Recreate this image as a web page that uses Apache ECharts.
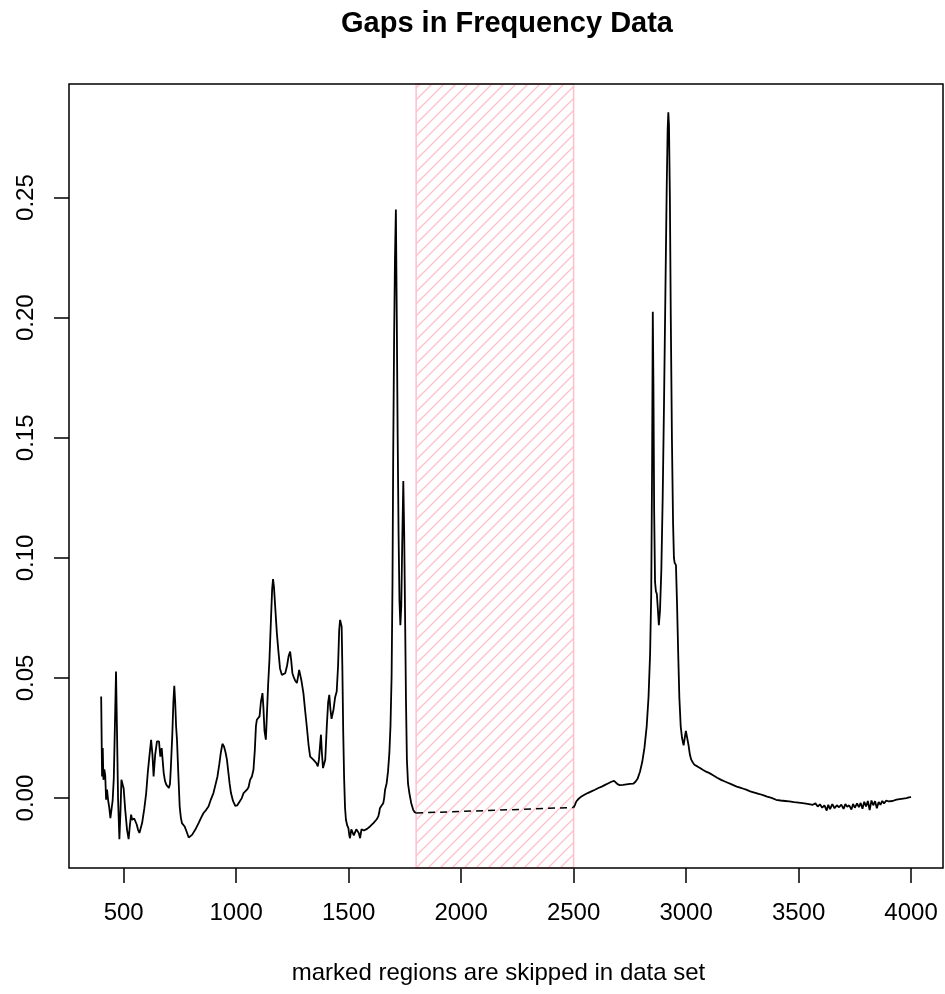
<!DOCTYPE html>
<html>
<head>
<meta charset="utf-8">
<title>Gaps in Frequency Data</title>
<script src="https://cdn.jsdelivr.net/npm/echarts@6/dist/echarts.min.js"></script>
<style>
  html, body { margin: 0; padding: 0; background: #fff; }
  #chart { width: 945px; height: 994px; }
</style>
</head>
<body>
<div id="chart"></div>
<script>
// spectrum before the skipped region (wavenumber, value)
var leftX = [400, 404, 407, 410, 414, 418, 422, 426, 431, 436, 441, 446, 451, 456, 461, 466, 470, 475, 481, 486,
  490, 496, 500, 507, 515, 522, 527, 533, 538, 542, 547, 552, 558, 564, 570, 574, 582, 592, 600, 607,
  615, 622, 628, 633, 640, 648, 657, 663, 669, 674, 678, 684, 690, 701, 706, 710, 716, 721, 725, 729,
  733, 737, 743, 749, 754, 759, 765, 771, 780, 789, 796, 804, 818, 833, 845, 855, 866, 877, 888, 899,
  908, 917, 925, 932, 939, 946, 953, 959, 965, 971, 977, 986, 996, 1005, 1015, 1025, 1033, 1040, 1048, 1055,
  1062, 1070, 1077, 1083, 1088, 1092, 1098, 1104, 1110, 1117, 1121, 1126, 1132, 1136, 1142, 1148, 1155, 1160, 1164, 1168,
  1174, 1181, 1188, 1195, 1203, 1210, 1218, 1226, 1233, 1240, 1245, 1250, 1255, 1262, 1270, 1276, 1280, 1284, 1290, 1299,
  1306, 1314, 1322, 1329, 1336, 1343, 1350, 1357, 1363, 1368, 1373, 1377, 1381, 1386, 1391, 1396, 1403, 1409, 1414, 1419,
  1424, 1428, 1433, 1440, 1447, 1453, 1458, 1462, 1466, 1469, 1472, 1476, 1480, 1484, 1488, 1494, 1499, 1503, 1506, 1512,
  1518, 1523, 1528, 1534, 1539, 1545, 1551, 1557, 1563, 1568, 1573, 1582, 1589, 1595, 1602, 1610, 1617, 1625, 1632, 1636,
  1639, 1646, 1654, 1658, 1662, 1666, 1669, 1675, 1681, 1686, 1691, 1695, 1698, 1702, 1706, 1710, 1714, 1718, 1722, 1726,
  1730, 1734, 1738, 1743, 1747, 1751, 1755, 1759, 1764, 1770, 1778, 1787, 1793, 1800];
var leftY = [0.0423, 0.009, 0.0208, 0.0076, 0.012, 0.0095, -0.0007, 0.0035, -0.001, -0.004, -0.0083, -0.0075, -0.001, 0.008, 0.030, 0.0527, 0.030, 0.000, -0.0171, -0.005,
  0.0076, 0.0075, 0.004, -0.005, -0.0132, -0.0171, -0.012, -0.0069, -0.009, -0.0097, -0.0085, -0.009, -0.011, -0.0132, -0.0145, -0.0146, -0.0104, -0.0042, 0.002, 0.0104,
  0.018, 0.0243, 0.018, 0.009, 0.018, 0.0236, 0.0236, 0.0173, 0.0208, 0.015, 0.0104, 0.007, 0.0055, 0.0042, 0.006, 0.0132, 0.026, 0.040, 0.0468, 0.040,
  0.030, 0.0243, 0.010, -0.0035, -0.008, -0.0104, -0.0112, -0.0118, -0.014, -0.0164, -0.016, -0.0153, -0.0132, -0.0104, -0.008, -0.0062, -0.005, -0.0035, -0.0005, 0.0021,
  0.0055, 0.009, 0.014, 0.019, 0.0226, 0.0215, 0.019, 0.016, 0.011, 0.006, 0.0021, -0.0012, -0.0032, -0.003, -0.0015, 0.0, 0.0021, 0.0028, 0.0035, 0.0045,
  0.0076, 0.009, 0.0118, 0.020, 0.030, 0.0326, 0.0333, 0.034, 0.040, 0.0437, 0.038, 0.028, 0.0243, 0.033, 0.047, 0.0576, 0.075, 0.087, 0.0912, 0.088,
  0.079, 0.0687, 0.061, 0.054, 0.0513, 0.0515, 0.052, 0.055, 0.059, 0.061, 0.057, 0.052, 0.0506, 0.049, 0.0479, 0.051, 0.0534, 0.0534, 0.049, 0.0437,
  0.037, 0.0298, 0.022, 0.0173, 0.0165, 0.016, 0.0155, 0.0145, 0.0132, 0.016, 0.022, 0.0264, 0.019, 0.0125, 0.0118, 0.016, 0.030, 0.040, 0.043, 0.037,
  0.033, 0.0326, 0.037, 0.042, 0.0444, 0.055, 0.070, 0.0742, 0.0745, 0.0714, 0.055, 0.0271, 0.008, -0.004, -0.009, -0.0115, -0.0125, -0.0155, -0.0167, -0.013,
  -0.0132, -0.0155, -0.016, -0.013, -0.0125, -0.0145, -0.0167, -0.013, -0.0125, -0.0135, -0.0139, -0.0128, -0.012, -0.0118, -0.011, -0.0104, -0.0097, -0.0088, -0.0076, -0.006,
  -0.0042, -0.0032, -0.0021, 0.000, 0.0035, 0.005, 0.0062, 0.011, 0.0187, 0.030, 0.0506, 0.090, 0.141, 0.190, 0.225, 0.245, 0.200, 0.150, 0.110, 0.082,
  0.072, 0.080, 0.105, 0.132, 0.110, 0.075, 0.040, 0.016, 0.006, 0.0021, -0.002, -0.0049, -0.0058, -0.0062];

// spectrum after the skipped region
var rightX = [2500, 2506, 2512, 2520, 2535, 2550, 2565, 2579, 2595, 2610, 2625, 2640, 2655, 2668, 2680, 2688, 2695, 2705, 2720, 2735,
  2750, 2765, 2775, 2785, 2795, 2805, 2815, 2825, 2833, 2840, 2845, 2849, 2852, 2855, 2858, 2862, 2866, 2870, 2875, 2879,
  2884, 2890, 2896, 2902, 2908, 2914, 2918, 2921, 2924, 2928, 2932, 2937, 2942, 2946, 2949, 2955, 2960, 2965, 2970, 2976,
  2982, 2989, 2993, 2999, 3005, 3011, 3017, 3023, 3030, 3037, 3050, 3062, 3074, 3089, 3104, 3120, 3138, 3156, 3170, 3185,
  3200, 3208, 3225, 3240, 3255, 3267, 3285, 3300, 3315, 3326, 3345, 3360, 3380, 3400, 3420, 3440, 3459, 3480, 3500, 3518,
  3540, 3563, 3575, 3585, 3595, 3605, 3615, 3625, 3632, 3640, 3650, 3660, 3670, 3680, 3690, 3700, 3708, 3716, 3725, 3735,
  3742, 3750, 3760, 3768, 3776, 3784, 3792, 3800, 3808, 3816, 3824, 3832, 3840, 3848, 3856, 3864, 3872, 3880, 3890, 3900,
  3918, 3935, 3950, 3965, 3980, 3990, 4000];
var rightY = [-0.0039, -0.0028, -0.0014, -0.0005, 0.0007, 0.0015, 0.0022, 0.0028, 0.0035, 0.0042, 0.0048, 0.0055, 0.0062, 0.0068, 0.0072, 0.0068, 0.0058, 0.0054, 0.0055, 0.0057,
  0.0059, 0.006, 0.0068, 0.0082, 0.011, 0.015, 0.021, 0.030, 0.042, 0.060, 0.085, 0.140, 0.2025, 0.170, 0.120, 0.090, 0.086, 0.085, 0.078, 0.072,
  0.078, 0.095, 0.125, 0.165, 0.210, 0.255, 0.278, 0.2855, 0.280, 0.250, 0.200, 0.150, 0.115, 0.100, 0.098, 0.097, 0.080, 0.060, 0.042, 0.030,
  0.025, 0.022, 0.0225, 0.028, 0.0285, 0.022, 0.018, 0.016, 0.0148, 0.0139, 0.0132, 0.0125, 0.0118, 0.011, 0.0104, 0.0095, 0.0085, 0.0076, 0.0070, 0.0064,
  0.0058, 0.0055, 0.0048, 0.0044, 0.0039, 0.0035, 0.0028, 0.0024, 0.0020, 0.0017, 0.0011, 0.0006, 0.0001, -0.0007, -0.0010, -0.0012, -0.0014, -0.0017, -0.0019, -0.0021,
  -0.0024, -0.0028, -0.0022, -0.0035, -0.0026, -0.0040, -0.0030, -0.0052, -0.0028, -0.0046, -0.0025, -0.0042, -0.0030, -0.0038, -0.0027, -0.0045, -0.0025, -0.0036, -0.0030, -0.0048,
  -0.0024, -0.0040, -0.0022, -0.0038, -0.0020, -0.0044, -0.0015, -0.0035, -0.0012, -0.0050, -0.0010, -0.0030, -0.0013, -0.0042, -0.0016, -0.0028, -0.0012, -0.0022, -0.0010, -0.0014,
  -0.0012, -0.0006, -0.0004, -0.0002, 0.0000, 0.0003, 0.0004];

// skipped region, plot box ranges and tick marks
var gapX = [1800, 2500];
var xRange = [257, 4142];
var yRange = [-0.0291, 0.2973];
var xTicks = [500, 1000, 1500, 2000, 2500, 3000, 3500, 4000];
var yTicks = [0, 0.05, 0.10, 0.15, 0.20, 0.25];

var FONT = 'Liberation Sans, Arial, Helvetica, sans-serif';
var TICK_LEN = 15;

// plot box in pixels; the grid reaches TICK_LEN further left and down so
// the outward R-style ticks fall inside it
var BOX = { left: 69, right: 943, top: 84, bottom: 868 };
var pxPerX = (BOX.right - BOX.left) / (xRange[1] - xRange[0]);
var pxPerY = (BOX.bottom - BOX.top) / (yRange[1] - yRange[0]);
var xAxisMin = xRange[0] - TICK_LEN / pxPerX;
var yAxisMin = yRange[0] - TICK_LEN / pxPerY;

function pairs(xs, ys) {
  return xs.map(function (x, i) { return [x, ys[i]]; });
}

// hatch tile for the skipped region (45 degree pink lines)
function hatchTile() {
  var s = 12;
  var c = document.createElement('canvas');
  c.width = s; c.height = s;
  var ctx = c.getContext('2d');
  ctx.strokeStyle = '#ffc0cb';
  ctx.lineWidth = 1.3;
  ctx.beginPath();
  ctx.moveTo(-1, s + 1); ctx.lineTo(s + 1, -1);
  ctx.moveTo(-1, 1); ctx.lineTo(1, -1);
  ctx.moveTo(s - 1, s + 1); ctx.lineTo(s + 1, s - 1);
  ctx.stroke();
  return c;
}

var leftData = pairs(leftX, leftY);
var rightData = pairs(rightX, rightY);
var gapData = [leftData[leftData.length - 1], rightData[0]];

var myChart = echarts.init(document.getElementById('chart'), null, { renderer: 'canvas' });

var tickStyle = { show: true, inside: true, length: TICK_LEN, lineStyle: { color: '#000', width: 1.5 } };

var option = {
  animation: false,
  backgroundColor: '#ffffff',
  title: {
    text: 'Gaps in Frequency Data',
    left: 341,
    top: 9,
    padding: 0,
    textStyle: { fontFamily: FONT, fontSize: 29, fontWeight: 'bold', color: '#000' }
  },
  grid: {
    left: BOX.left - TICK_LEN, right: 945 - BOX.right, top: BOX.top, bottom: 994 - BOX.bottom - TICK_LEN,
    show: false
  },
  xAxis: {
    type: 'value',
    min: xAxisMin, max: xRange[1],
    position: 'bottom',
    name: 'marked regions are skipped in data set',
    nameLocation: 'middle',
    nameGap: 78,
    nameTextStyle: { fontFamily: FONT, fontSize: 24, color: '#000' },
    axisLine: { show: false, onZero: false },
    splitLine: { show: false },
    axisTick: Object.assign({ customValues: xTicks }, tickStyle),
    axisLabel: {
      margin: 18, fontFamily: FONT, fontSize: 24, color: '#000', customValues: xTicks,
      formatter: function (v) { return String(v); }
    }
  },
  yAxis: {
    type: 'value',
    min: yAxisMin, max: yRange[1],
    position: 'left',
    axisLine: { show: false, onZero: false },
    splitLine: { show: false },
    axisTick: Object.assign({ customValues: yTicks }, tickStyle),
    axisLabel: {
      rotate: 90, margin: 16, fontFamily: FONT, fontSize: 24, color: '#000',
      customValues: yTicks,
      formatter: function (v) { return v.toFixed(2); }
    }
  },
  series: [
    {
      type: 'line',
      data: leftData,
      clip: false,
      showSymbol: false,
      symbol: 'none',
      lineStyle: { color: '#000', width: 1.8 },
      markArea: {
        silent: true,
        itemStyle: {
          color: { image: hatchTile(), repeat: 'repeat' },
          borderColor: '#ffc0cb',
          borderWidth: 1.5
        },
        data: [[{ xAxis: gapX[0], yAxis: yRange[0] }, { xAxis: gapX[1], yAxis: yRange[1] }]]
      }
    },
    {
      type: 'line',
      data: gapData,
      clip: false,
      showSymbol: false,
      symbol: 'none',
      lineStyle: { color: '#000', width: 1.5, type: [7, 5] }
    },
    {
      type: 'line',
      data: rightData,
      clip: false,
      showSymbol: false,
      symbol: 'none',
      lineStyle: { color: '#000', width: 1.8 },
      // the plot box
      markArea: {
        silent: true,
        itemStyle: { color: 'rgba(0,0,0,0)', borderColor: '#000', borderWidth: 1.5 },
        data: [[{ xAxis: xRange[0], yAxis: yRange[0] }, { xAxis: xRange[1], yAxis: yRange[1] }]]
      }
    }
  ]
};

myChart.setOption(option);
</script>
</body>
</html>
